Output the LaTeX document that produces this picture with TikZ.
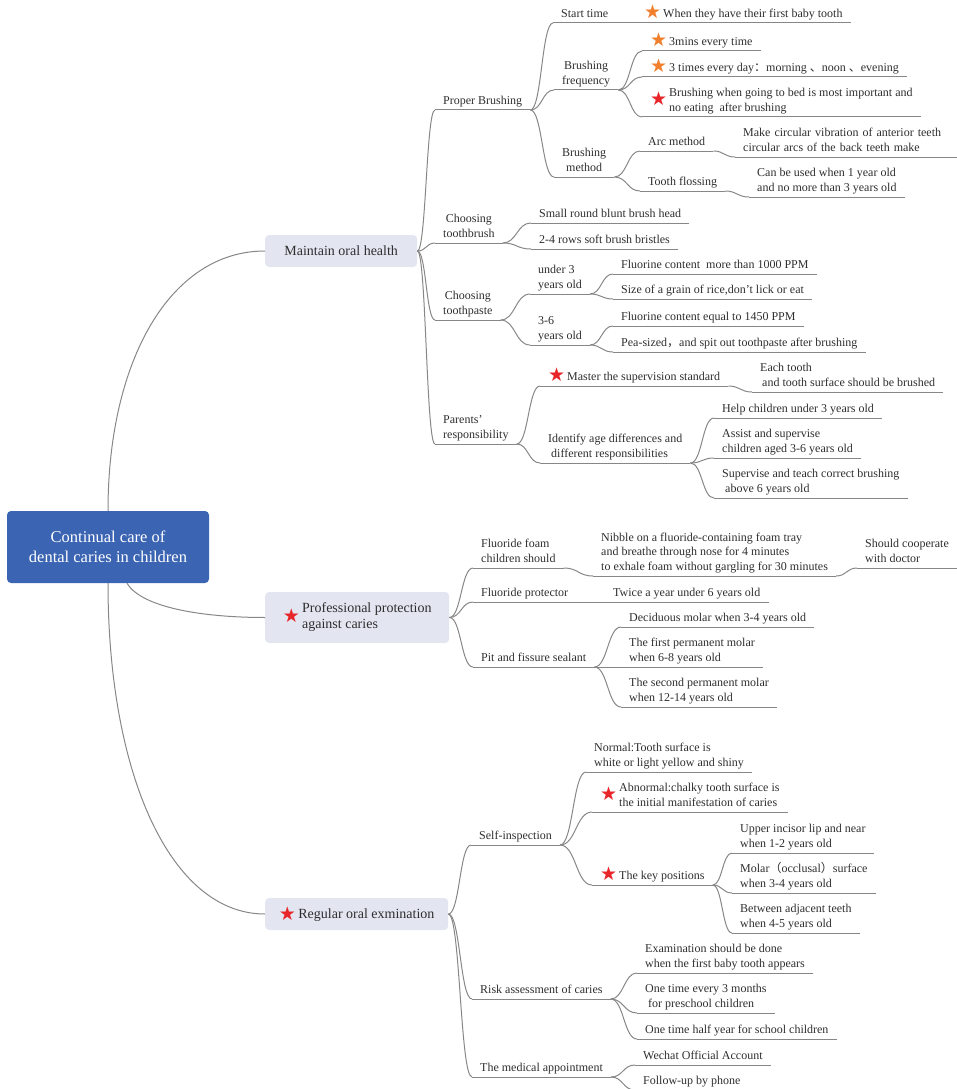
\documentclass[tikz,border=0pt]{standalone}
\usepackage{fontspec}
\setmainfont{Liberation Serif}
\newfontfamily\cjk{Noto Sans CJK SC}
\newfontfamily\symfont{DejaVu Sans}
\usetikzlibrary{calc}
\definecolor{rootfill}{HTML}{3B64B3}
\definecolor{topicfill}{HTML}{E3E5F1}
\definecolor{branchline}{HTML}{878787}
\definecolor{labeltext}{HTML}{2E2E2E}
\definecolor{starred}{HTML}{E8262A}
\definecolor{starorange}{HTML}{F07F2E}
\newcommand{\rstar}{\raisebox{-1.5pt}{\symfont\fontsize{19}{19}\selectfont\textcolor{starred}{★}}}
\newcommand{\ostar}{\raisebox{-1.5pt}{\symfont\fontsize{19}{19}\selectfont\textcolor{starorange}{★}}}
\tikzset{
  root/.style={rectangle, rounded corners=4pt, fill=rootfill, text=white, align=center, font=\fontsize{16.5}{20}\selectfont, minimum width=202pt, minimum height=72pt},
  topic/.style={rectangle, rounded corners=4pt, fill=topicfill, text=labeltext, anchor=west, font=\fontsize{14}{16}\selectfont, minimum height=32pt},
  item/.style={anchor=south west, align=left, inner xsep=8pt, inner ysep=1pt, text=labeltext, font=\fontsize{12}{14.5}\selectfont, execute at end node=\strut},
  itemc/.style={item, align=center},
  uline/.style={draw=branchline, line width=1pt},
  link/.style={uline, to path={let \p1=(\tikztostart), \p2=(\tikztotarget) in .. controls ({0.5*\x1+0.5*\x2},\y1) and ({0.5*\x1+0.5*\x2},\y2) .. (\tikztotarget)}}
}

\begin{document}
\begin{tikzpicture}[x=1pt, y=-1pt]
\useasboundingbox (0,0) rectangle (957,1089);

\node[root] (root) at (108,547) {Continual care of\\dental caries in children};

\node[topic, minimum width=152pt] (maintain) at (265,251) {Maintain oral health};
\node[topic, minimum width=184pt, minimum height=51pt] (protect) at (265,617.5) {\rstar\,\begin{tabular}{@{}l@{}}Professional protection\\against caries\end{tabular}};
\node[topic, minimum width=183pt] (exam) at (265,914) {\rstar\,Regular oral exmination};

\node[item] (brushing) at (435,110) {Proper Brushing};
\node[item] (starttime) at (553,23) {Start time};
\node[item] (firsttooth) at (636,23) {\ostar\,When they have their first baby tooth};
\node[itemc] (frequency) at (554,90) {Brushing\\frequency};
\node[item] (threemins) at (642,51) {\ostar\,3mins every time};
\node[item] (threetimes) at (642,77) {\ostar\,3 times every day{\cjk ：}morning {\cjk 、}noon {\cjk 、}evening};
\node[item] (bedtime) at (642,117) {\raisebox{7pt}{\rstar}\,\begin{tabular}[b]{@{}l@{}}Brushing when going to bed is most important and\\no eating\ \ after brushing\end{tabular}};
\node[itemc] (method) at (554,177) {Brushing\\method};
\node[item] (arc) at (640,151) {Arc method};
\node[item, text width=206pt] (circular) at (735,157) {Make circular vibration of anterior teeth\\circular arcs of the back teeth make};
\node[item] (flossing) at (640,191) {Tooth flossing};
\node[item] (oneyear) at (749,197) {Can be used when 1 year old\\and no more than 3 years old};

\node[itemc] (toothbrush) at (435,243) {Choosing\\toothbrush};
\node[item] (brushhead) at (531,223) {Small round blunt brush head};
\node[item] (bristles) at (531,249) {2-4 rows soft brush bristles};
\node[itemc] (toothpaste) at (435,320) {Choosing\\toothpaste};
\node[item] (underthree) at (530,294) {under 3\\years old};
\node[item] (fluorhigh) at (613,274) {Fluorine content\ \ more than 1000 PPM};
\node[item] (rice) at (613,299) {Size of a grain of rice,don't lick or eat};
\node[item] (threesix) at (530,345) {3-6\\years old};
\node[item] (fluorequal) at (613,326) {Fluorine content equal to 1450 PPM};
\node[item] (pea) at (613,352) {Pea-sized{\cjk ，}and spit out toothpaste after brushing};

\node[item] (parents) at (435,444) {Parents'\\responsibility};
\node[item] (standard) at (540,386) {\rstar\,Master the supervision standard};
\node[item] (eachtooth) at (752,392) {Each tooth\\\hspace{2pt}and tooth surface should be brushed};
\node[item] (agediff) at (540,463) {Identify age differences and\\\hspace{3pt}different responsibilities};
\node[item] (help) at (714,418) {Help children under 3 years old};
\node[item] (assist) at (714,458) {Assist and supervise\\children aged 3-6 years old};
\node[item] (teach) at (714,498) {Supervise and teach correct brushing\\\hspace{3pt}above 6 years old};

\node[item] (foam) at (473,568) {Fluoride foam\\children should};
\node[item] (nibble) at (593,576) {Nibble on a fluoride-containing foam tray\\and breathe through nose for 4 minutes\\to exhale foam without gargling for 30 minutes};
\node[item] (cooperate) at (857,568) {Should cooperate\\with doctor};
\node[item] (protector) at (473,602) {Fluoride protector};
\node[item] (twice) at (605,602) {Twice a year under 6 years old};
\node[item] (sealant) at (473,667) {Pit and fissure sealant};
\node[item] (deciduous) at (621,627) {Deciduous molar when 3-4 years old};
\node[item] (firstmolar) at (621,667) {The first permanent molar\\when 6-8 years old};
\node[item] (secondmolar) at (621,707) {The second permanent molar\\when 12-14 years old};

\node[item] (selfcheck) at (471,845) {Self-inspection};
\node[item] (normal) at (586,772) {Normal:Tooth surface is\\white or light yellow and shiny};
\node[item] (abnormal) at (592,812) {\raisebox{7pt}{\rstar}\,\begin{tabular}[b]{@{}l@{}}Abnormal:chalky tooth surface is\\the initial manifestation of caries\end{tabular}};
\node[item] (keypos) at (592,885) {\rstar\,The key positions};
\node[item] (incisor) at (732,853) {Upper incisor lip and near\\when 1-2 years old};
\node[item] (occlusal) at (732,893) {Molar{\cjk （}occlusal{\cjk ）}surface\\when 3-4 years old};
\node[item] (adjacent) at (732,933) {Between adjacent teeth\\when 4-5 years old};
\node[item] (risk) at (472,999) {Risk assessment of caries};
\node[item] (babytooth) at (637,973) {Examination should be done\\when the first baby tooth appears};
\node[item] (preschool) at (637,1013) {One time every 3 months\\\hspace{3pt}for preschool children};
\node[item] (school) at (637,1039) {One time half year for school children};
\node[item] (appoint) at (472,1077) {The medical appointment};
\node[item] (wechat) at (635,1065) {Wechat Official Account};
\node[item] (phone) at (635,1090) {Follow-up by phone};

% underlines under every branch label
\foreach \leaf in {brushing, starttime, firsttooth, frequency, threemins, threetimes, bedtime, method, arc, circular, flossing, oneyear,
  toothbrush, brushhead, bristles, toothpaste, underthree, fluorhigh, rice, threesix, fluorequal, pea,
  parents, standard, eachtooth, agediff, help, assist, teach,
  foam, nibble, cooperate, protector, twice, sealant, deciduous, firstmolar, secondmolar,
  selfcheck, normal, abnormal, keypos, incisor, occlusal, adjacent, risk, babytooth, preschool, school, appoint, wechat, phone}
  \draw[uline] (\leaf.south west) -- (\leaf.south east);

\draw[uline] (root.north) .. controls +(0,-150) and +(-95,0) .. (maintain.west);
\draw[uline] ([xshift=19pt]root.south) .. controls +(15,25) and +(-60,0) .. (protect.west);
\draw[uline] (root.south) .. controls +(0,190) and +(-95,0) .. (exam.west);

\foreach \leaf in {brushing, toothbrush, toothpaste, parents} \draw[link] (maintain.east) to (\leaf.south west);
\foreach \leaf in {foam, protector, sealant} \draw[link] (protect.east) to (\leaf.south west);
\foreach \leaf in {selfcheck, risk, appoint} \draw[link] (exam.east) to (\leaf.south west);

\foreach \a/\b in {brushing/starttime, brushing/frequency, brushing/method, starttime/firsttooth,
  frequency/threemins, frequency/threetimes, frequency/bedtime, method/arc, method/flossing,
  arc/circular, flossing/oneyear, toothbrush/brushhead, toothbrush/bristles,
  toothpaste/underthree, toothpaste/threesix, underthree/fluorhigh, underthree/rice,
  threesix/fluorequal, threesix/pea, parents/standard, parents/agediff, standard/eachtooth,
  agediff/help, agediff/assist, agediff/teach, foam/nibble, nibble/cooperate, protector/twice,
  sealant/deciduous, sealant/firstmolar, sealant/secondmolar, selfcheck/normal, selfcheck/abnormal,
  selfcheck/keypos, keypos/incisor, keypos/occlusal, keypos/adjacent, risk/babytooth,
  risk/preschool, risk/school, appoint/wechat, appoint/phone}
  \draw[link] (\a.south east) to (\b.south west);

\end{tikzpicture}
\end{document}
